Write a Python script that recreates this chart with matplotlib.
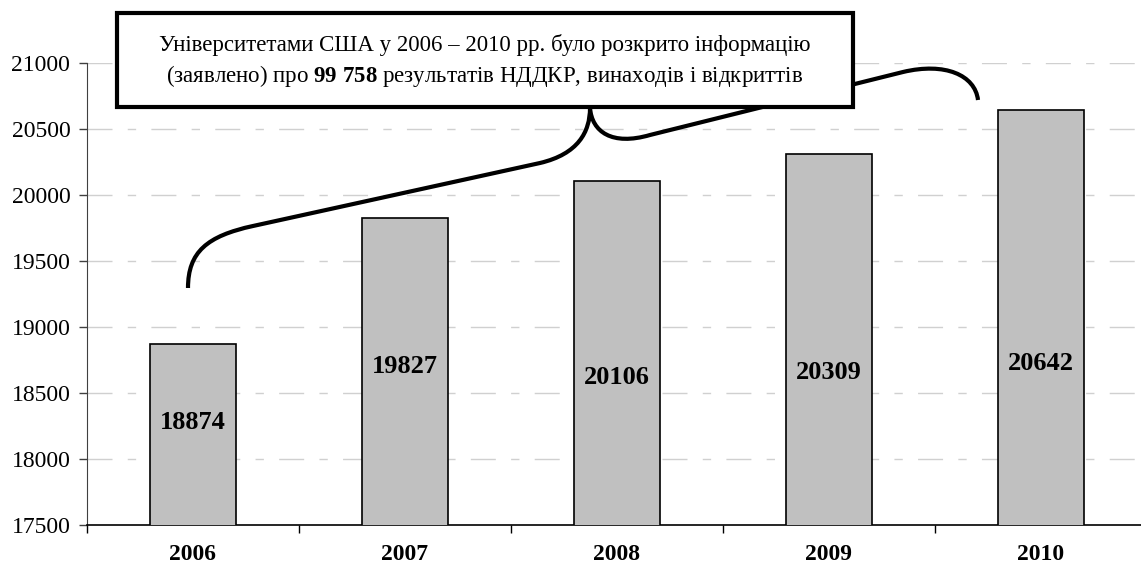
import numpy as np
import matplotlib.pyplot as plt
from matplotlib.path import Path
from matplotlib.patches import PathPatch, Rectangle

plt.rcParams['font.family'] = ['Liberation Serif', 'DejaVu Serif']
plt.rcParams['mathtext.fontset'] = 'custom'
plt.rcParams['mathtext.rm'] = 'Liberation Serif'
plt.rcParams['mathtext.bf'] = 'Liberation Serif:bold'

years = ['2006', '2007', '2008', '2009', '2010']
counts = [18874, 19827, 20106, 20309, 20642]
# where the value labels sit inside each bar (data units)
label_y = [18280, 18697, 18614, 18659, 18727]
yticks = [17500, 18000, 18500, 19000, 19500, 20000, 20500, 21000]

W, H = 1141, 568
fig = plt.figure(figsize=(W / 100, H / 100), dpi=100)
ax = fig.add_axes([87 / W, 1 - 525 / H, 1060 / W, (525 - 63) / H])

x = np.arange(len(years))
ax.bar(x, counts, width=0.41, bottom=0, color='#c0c0c0', edgecolor='black',
       linewidth=1.2, zorder=3)
for xi, v, ly in zip(x, counts, label_y):
    ax.text(xi, ly, str(v), ha='center', va='center', fontsize=19,
            fontweight='bold', zorder=4)

ax.set_xlim(-0.5, len(years) - 0.5)
ax.set_ylim(17500, 21000)
ax.set_yticks(yticks)
ax.set_yticklabels([str(t) for t in yticks])
ax.tick_params(axis='y', direction='out', length=6, width=1, pad=6,
               labelsize=17, color='#404040')

ax.set_xticks(x)
ax.set_xticklabels(years, fontweight='bold', fontsize=17)
ax.set_xticks(np.arange(len(years) + 1) - 0.5, minor=True)
ax.tick_params(axis='x', which='major', length=0, pad=14)
ax.tick_params(axis='x', which='minor', length=6, width=1, direction='out')

for t in yticks[1:]:
    ax.axhline(t, color='#d0d0d0', linewidth=1, dashes=(18, 11, 6, 11), zorder=1)

for s in ['top', 'right']:
    ax.spines[s].set_visible(False)
ax.spines['left'].set_color('#404040')
ax.spines['bottom'].set_color('black')
ax.spines['bottom'].set_linewidth(1.2)

# curly brace callout (figure pixel coordinates)
def fp(px, py):
    return (px / W, 1 - py / H)

verts = [fp(188, 288), fp(188, 252), fp(207, 236), fp(253, 226),
         fp(540, 163),
         fp(578, 154), fp(590, 132), fp(590, 108),
         fp(592, 132), fp(612, 146), fp(650, 135),
         fp(903, 72),
         fp(945, 62), fp(975, 75), fp(978, 100)]
codes = [Path.MOVETO, Path.CURVE4, Path.CURVE4, Path.CURVE4,
         Path.LINETO,
         Path.CURVE4, Path.CURVE4, Path.CURVE4,
         Path.CURVE4, Path.CURVE4, Path.CURVE4,
         Path.LINETO,
         Path.CURVE4, Path.CURVE4, Path.CURVE4]
brace = PathPatch(Path(verts, codes), facecolor='none', edgecolor='black',
                  linewidth=3, transform=fig.transFigure, zorder=10,
                  capstyle='butt')
fig.add_artist(brace)

x0, y0 = fp(117, 107)
x1, y1 = fp(853, 13)
box = Rectangle((x0, y0), x1 - x0, y1 - y0, facecolor='white', edgecolor='black',
                linewidth=3, transform=fig.transFigure, zorder=11)
fig.add_artist(box)

cx = (x0 + x1) / 2
fig.text(cx, 1 - 45 / H, 'Університетами США у 2006 – 2010 рр. було розкрито інформацію',
         ha='center', va='center', fontsize=16.5, zorder=12)
fig.text(cx, 1 - 76 / H,
         r'(заявлено) про $\mathbf{99}$ $\mathbf{758}$ результатів НДДКР, винаходів і відкриттів',
         ha='center', va='center', fontsize=16.5, zorder=12)

fig.savefig('out.png', dpi=100)
